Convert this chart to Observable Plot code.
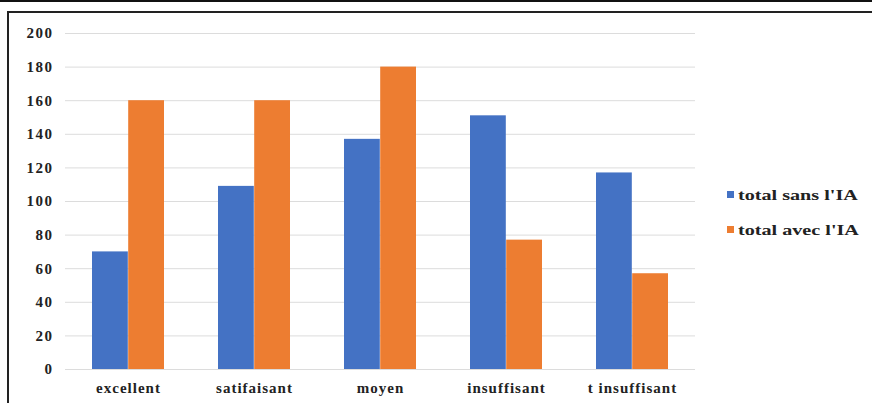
<!DOCTYPE html>
<html>
<head>
<meta charset="utf-8">
<script src="https://cdn.jsdelivr.net/npm/d3@7"></script>
<script src="https://cdn.jsdelivr.net/npm/@observablehq/plot@0.6"></script>
<style>
  html, body { margin: 0; padding: 0; background: #fff; }
  #wrap { position: relative; width: 872px; height: 403px; overflow: hidden; }
  #wrap svg { position: absolute; left: 0; top: 0; }
  #wrap svg text { font-family: "Liberation Serif", "Times New Roman", serif; font-weight: bold; }
  .rule-top { position: absolute; left: 0; top: 0; width: 872px; height: 2px; background: #111; }
  .box-top { position: absolute; left: 7px; top: 11px; width: 865px; height: 2px; background: #222; }
  .box-left { position: absolute; left: 7px; top: 11px; width: 2px; height: 392px; background: #222; }
  #legend { position: absolute; left: 727px; top: 177px; font: bold 15.5px "Liberation Serif", "Times New Roman", serif; color: #222; }
  #legend .item { display: flex; align-items: center; height: 35px; }
  #legend .sw { width: 7px; height: 7px; margin-right: 4px; }
  #legend .lab { display: inline-block; transform: scaleX(1.3); transform-origin: left center; }
</style>
</head>
<body>
<div id="wrap">
  <div class="rule-top"></div>
  <div class="box-top"></div>
  <div class="box-left"></div>
  <div id="legend"></div>
</div>
<script>
// Appreciation levels on the x axis
const categories = ["excellent", "satifaisant", "moyen", "insuffisant", "t insuffisant"];
// Series names
const seriesNames = ["total sans l'IA", "total avec l'IA"];
// Totals per level, without and with AI
const sansIA = [70, 109, 137, 151, 117];
const avecIA = [160, 160, 180, 77, 57];
// Y axis ticks
const yTicks = [0, 20, 40, 60, 80, 100, 120, 140, 160, 180, 200];

const colors = ["#4472C4", "#ED7D31"];

const sansData = categories.map((c, i) => ({category: c, value: sansIA[i]}));
const avecData = categories.map((c, i) => ({category: c, value: avecIA[i]}));

const chart = Plot.plot({
  width: 872,
  height: 403,
  marginLeft: 65,
  marginRight: 177,
  marginTop: 33,
  marginBottom: 34,
  style: {fontFamily: "'Liberation Serif', 'Times New Roman', serif", fontWeight: "bold", color: "#222", background: "transparent"},
  x: {domain: categories, paddingInner: 0.43, paddingOuter: 0.215, label: null},
  y: {domain: [0, 200], label: null},
  marks: [
    Plot.ruleY(yTicks, {stroke: "#dcdcdc", strokeWidth: 1}),
    Plot.barY(sansData, {x: "category", y: "value", fill: colors[0], insetRight: 36.2}),
    Plot.barY(avecData, {x: "category", y: "value", fill: colors[1], insetLeft: 36.2}),
    Plot.axisY({ticks: yTicks, tickSize: 0, tickPadding: 12, fontSize: 15, label: null}),
    Plot.axisX({tickSize: 0, tickPadding: 13, fontSize: 15, label: null})
  ]
});

// Widen the tick labels slightly, as in the bold condensed-free Excel look
chart.querySelectorAll("[aria-label='y-axis tick label'] text").forEach(t => t.setAttribute("letter-spacing", "1.5"));
chart.querySelectorAll("[aria-label='x-axis tick label'] text").forEach(t => t.setAttribute("letter-spacing", "1"));

document.getElementById("wrap").prepend(chart);

const legend = document.getElementById("legend");
seriesNames.forEach((name, i) => {
  const item = document.createElement("div");
  item.className = "item";
  const sw = document.createElement("span");
  sw.className = "sw";
  sw.style.background = colors[i];
  const label = document.createElement("span");
  label.className = "lab";
  label.textContent = name;
  item.append(sw, label);
  legend.append(item);
});
</script>
</body>
</html>
